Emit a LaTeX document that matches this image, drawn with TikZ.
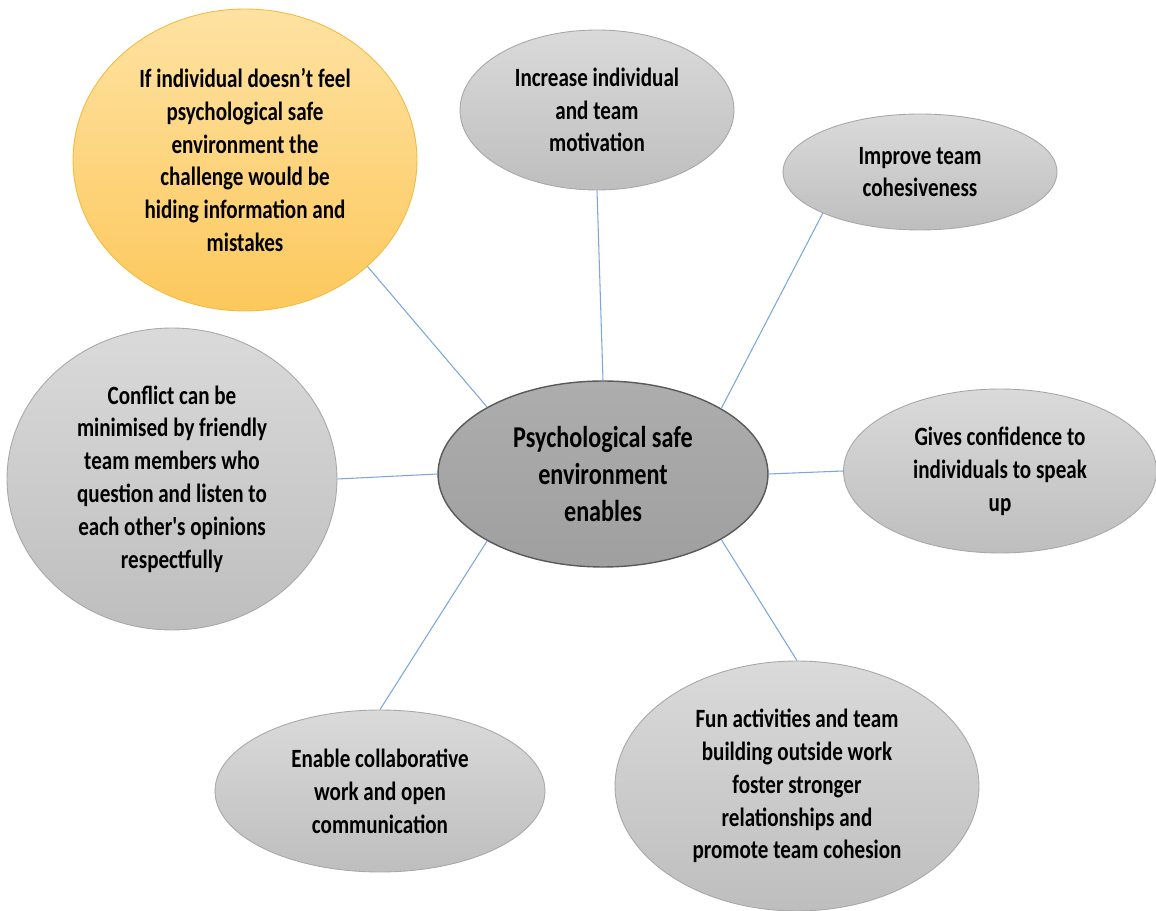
\documentclass[tikz,border=0pt]{standalone}
\usepackage{fontspec}
\setmainfont{Carlito}[FakeStretch=0.8, Ligatures=TeXOff]
\usetikzlibrary{shapes.geometric}
\definecolor{linkblue}{HTML}{7BA7DC}
\definecolor{bubbletop}{HTML}{DADADA}
\definecolor{bubblebot}{HTML}{BEBEBE}
\definecolor{bubbleedge}{HTML}{A8A8A8}
\definecolor{warmtop}{HTML}{FEE2A2}
\definecolor{warmbot}{HTML}{FCC85C}
\definecolor{warmedge}{HTML}{F4BC3E}
\definecolor{hubfill}{HTML}{A6A6A6}
\definecolor{hubedge}{HTML}{5A5A5A}
\tikzset{
  bubble/.style={ellipse, inner sep=0pt, align=center, draw=bubbleedge, line width=0.5pt,
    top color=bubbletop, bottom color=bubblebot, shading angle=0,
    font=\fontsize{15}{18.7}\selectfont\bfseries},
  warm/.style={bubble, draw=warmedge, top color=warmtop, bottom color=warmbot},
  hub/.style={bubble, fill=hubfill, draw=hubedge, line width=0.8pt,
    top color=hubfill!92!white, bottom color=hubfill!96!black,
    font=\fontsize{17.2}{21.3}\selectfont\bfseries},
  link/.style={draw=linkblue, line width=0.6pt}
}
\begin{document}
\begin{tikzpicture}[x=0.02cm, y=-0.02cm]
\useasboundingbox[fill=white] (0,0) rectangle (1156,911);
\clip (0,0) rectangle (1156,911);

% hub in the middle
\node[hub, minimum width=6.6cm, minimum height=3.72cm] (hub) at (603,474)
  {Psychological safe\\environment\\enables};

% surrounding bubbles
\node[warm, minimum width=6.88cm, minimum height=6.04cm] (hide) at (245,160)
  {If individual doesn’t feel\\psychological safe\\environment the\\challenge would be\\hiding information and\\mistakes};
\node[bubble, minimum width=5.48cm, minimum height=3.2cm] (motiv) at (597,110)
  {Increase individual\\and team\\motivation};
\node[bubble, minimum width=5.48cm, minimum height=2.32cm] (cohes) at (920,172)
  {Improve team\\cohesiveness};
\node[bubble, minimum width=6.26cm, minimum height=3.28cm] (speak) at (1000,471)
  {Gives confidence to\\individuals to speak\\up};
\node[bubble, minimum width=7.28cm, minimum height=5.0cm] (fun) at (797,786)
  {Fun activities and team\\building outside work\\foster stronger\\relationships and\\promote team cohesion};
\node[bubble, minimum width=6.6cm, minimum height=3.24cm] (collab) at (380,791)
  {Enable collaborative\\work and open\\communication};
\node[bubble, minimum width=6.6cm, minimum height=6.04cm] (confl) at (172,479)
  {Conflict can be\\minimised by friendly\\team members who\\question and listen to\\each other's opinions\\respectfully};

% spokes
\draw[link] (hub.150.4) -- (hide.-41);
\draw[link] (hub.90) -- (motiv.-90);
\draw[link] (hub.29) -- (cohes.203.3);
\draw[link] (hub.0) -- (speak.180);
\draw[link] (hub.-29) -- (fun.90);
\draw[link] (hub.-150.4) -- (collab.90);
\draw[link] (hub.180) -- (confl.0);
\end{tikzpicture}
\end{document}
